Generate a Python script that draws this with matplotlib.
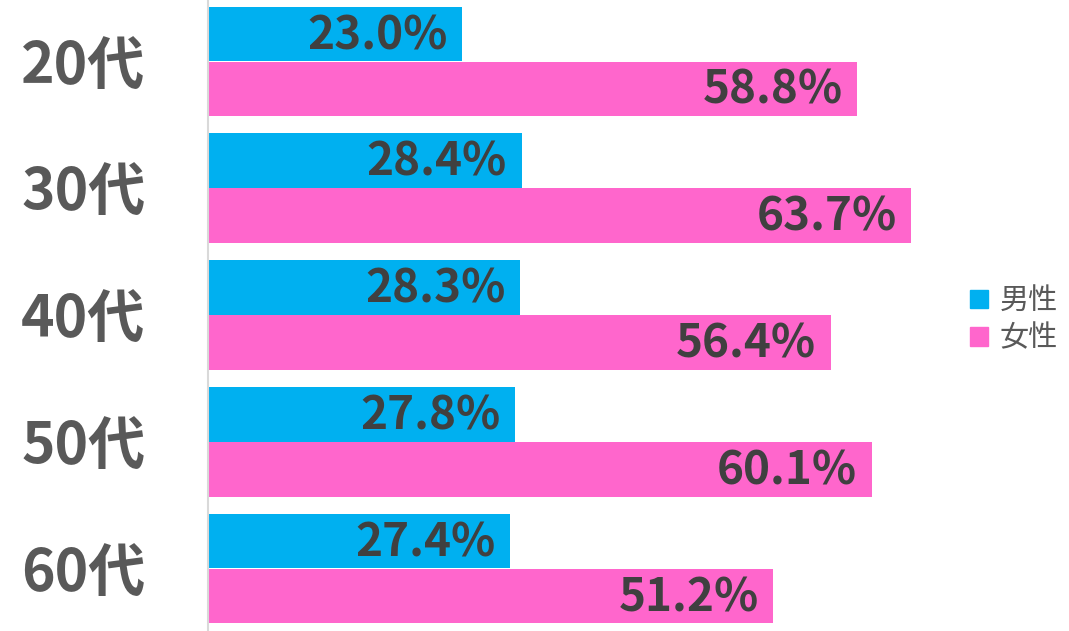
import numpy as np
import matplotlib
matplotlib.use("Agg")
import matplotlib.pyplot as plt
from matplotlib.patches import Patch

plt.rcParams['font.family'] = ['Noto Sans CJK JP', 'DejaVu Sans']

ages = ['20代', '30代', '40代', '50代', '60代']
male = [23.0, 28.4, 28.3, 27.8, 27.4]
female = [58.8, 63.7, 56.4, 60.1, 51.2]
series_names = ['男性', '女性']

blue = '#00B0F0'
pink = '#FF66CC'

fig = plt.figure(figsize=(10.69, 6.31), dpi=100)
ax = fig.add_axes([208 / 1069, 0, 1 - 208 / 1069, 1])

y = np.arange(len(ages))
off = 0.2165
h = 0.43
b1 = ax.barh(y - off, male, height=h, color=blue)
b2 = ax.barh(y + off, female, height=h, color=pink)

for bars, vals in [(b1, male), (b2, female)]:
    for rect, v in zip(bars, vals):
        ax.annotate('%.1f%%' % v,
                    xy=(rect.get_width(), rect.get_y() + rect.get_height() / 2),
                    xytext=(-10.5, -1.5), textcoords='offset points',
                    ha='right', va='center', fontsize=33, fontweight='bold',
                    color='#404040')

ax.set_xlim(0, 861 / 11.04)
ax.set_ylim(4 + 62.5 / 127, -61.5 / 127)
ax.set_yticks(y)
ax.set_yticklabels(ages, fontsize=41, fontweight='bold', color='#595959')
ax.tick_params(axis='y', length=0, pad=45)
ax.set_xticks([])
for s in ['top', 'right', 'bottom']:
    ax.spines[s].set_visible(False)
ax.spines['left'].set_color('#D9D9D9')
ax.spines['left'].set_linewidth(1.5)

handles = [Patch(color=blue), Patch(color=pink)]
fig.legend(handles, series_names, loc='center left',
           bbox_to_anchor=(950 / 1069, 1 - 320 / 631), frameon=False,
           fontsize=21, labelcolor='#595959', handlelength=0.6,
           handleheight=0.6, handletextpad=0.4, labelspacing=0.25,
           borderpad=0.2)

fig.savefig('out.png', dpi=100)
